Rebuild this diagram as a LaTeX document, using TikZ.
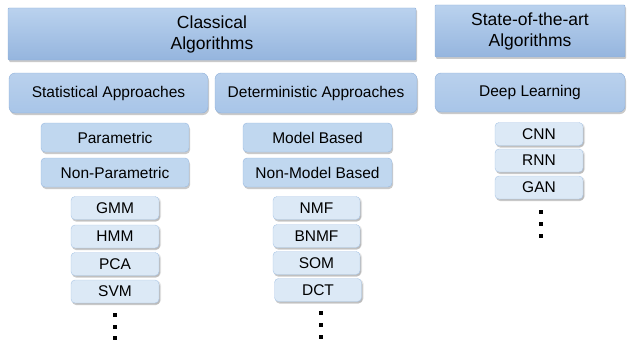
\documentclass[tikz,border=0pt]{standalone}
\usepackage{fontspec}
\setmainfont{Liberation Sans}
\usetikzlibrary{shadows}
\definecolor{titletop}{HTML}{BAD2EE}
\definecolor{titlebot}{HTML}{95B5DE}
\definecolor{titleline}{HTML}{8DAED8}
\definecolor{groupfill}{HTML}{A8C5E8}
\definecolor{groupline}{HTML}{8FB0DA}
\definecolor{subfill}{HTML}{C0D7EF}
\definecolor{subline}{HTML}{98B8E0}
\definecolor{itemfill}{HTML}{DCE9F6}
\definecolor{itemline}{HTML}{AAC6E6}
\tikzset{
  base/.style={draw, inner sep=0pt, align=center, text=black,
    drop shadow={shadow xshift=1pt, shadow yshift=-2pt, opacity=0.35, fill=black!60}},
  titlebox/.style={base, draw=titleline, rounded corners=1pt,
    top color=titletop, bottom color=titlebot,
    font=\fontsize{17.5}{21}\selectfont, minimum height=52pt},
  groupbox/.style={base, draw=groupline, rounded corners=6pt,
    top color=groupfill!80!white, bottom color=groupfill,
    font=\fontsize{15.5}{18}\selectfont, minimum height=40pt},
  subbox/.style={base, draw=subline, rounded corners=4pt, fill=subfill,
    font=\fontsize{15.5}{18}\selectfont, minimum width=148pt, minimum height=29pt},
  itembox/.style={base, draw=itemline, rounded corners=4pt, fill=itemfill,
    font=\fontsize{15.5}{18}\selectfont, minimum width=88pt, minimum height=23pt,
    drop shadow={shadow xshift=2pt, shadow yshift=-1pt, opacity=0.2, fill=black!50}},
  dotmark/.style={fill=black, inner sep=0pt, minimum size=4pt}
}
\begin{document}
\begin{tikzpicture}[x=1pt, y=-1pt]
\useasboundingbox (0,0) rectangle (631,345);

% top level headings
\node[titlebox, minimum width=408pt] (classical) at (212,34) {Classical\\Algorithms};
\node[titlebox, minimum width=190pt] (sota) at (530,31) {State-of-the-art\\Algorithms};

% approach families
\node[groupbox, minimum width=199pt] (stat) at (108.5,93) {Statistical Approaches};
\node[groupbox, minimum width=202pt] (det) at (316,93) {Deterministic Approaches};
\node[groupbox, minimum width=190pt, minimum height=39pt] (deep) at (530,92.5) {Deep Learning};

% sub-categories
\node[subbox] (param) at (115,137.5) {Parametric};
\node[subbox] (nonparam) at (115,172.5) {Non-Parametric};
\node[subbox, minimum width=149pt] (model) at (317.5,137.5) {Model Based};
\node[subbox, minimum width=149pt] (nonmodel) at (317.5,172.5) {Non-Model Based};

% statistical methods
\node[itembox] (gmm) at (115,208) {GMM};
\node[itembox] (hmm) at (115,236.5) {HMM};
\node[itembox] (pca) at (115,264) {PCA};
\node[itembox] (svm) at (115,291.5) {SVM};

% deterministic methods
\node[itembox, minimum width=87pt] (nmf) at (316.5,208) {NMF};
\node[itembox, minimum width=87pt] (bnmf) at (316.5,236) {BNMF};
\node[itembox, minimum width=87pt] (som) at (316.5,263) {SOM};
\node[itembox, minimum width=87pt] (dct) at (318,290) {DCT};

% deep learning methods
\node[itembox] (cnn) at (539,134) {CNN};
\node[itembox] (rnn) at (539,160.5) {RNN};
\node[itembox] (gan) at (539,187.5) {GAN};

% continuation marks
\node[dotmark] (l1) at (115,315) {};
\node[dotmark] (l2) at (115,327) {};
\node[dotmark] (l3) at (115,338) {};
\node[dotmark] (r1) at (321,313) {};
\node[dotmark] (r2) at (321,325) {};
\node[dotmark] (r3) at (321,337) {};
\node[dotmark] (d1) at (541,212) {};
\node[dotmark] (d2) at (541,224) {};
\node[dotmark] (d3) at (541,236) {};
\end{tikzpicture}
\end{document}
